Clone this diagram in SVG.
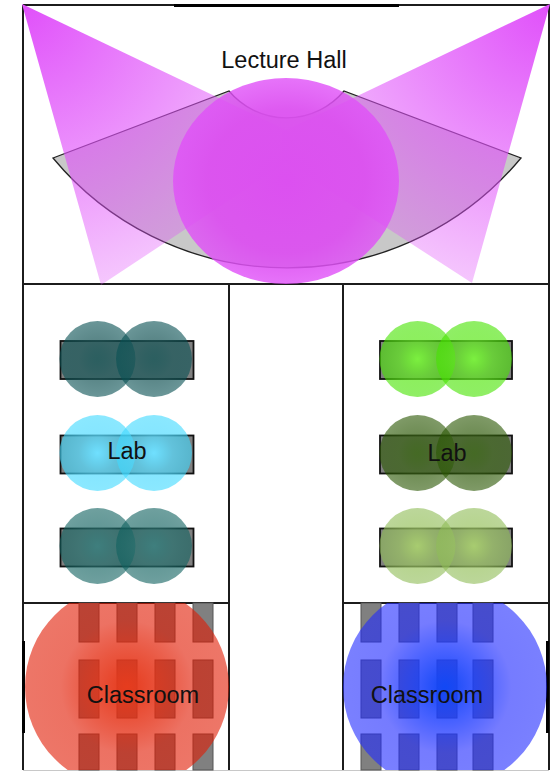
<svg xmlns="http://www.w3.org/2000/svg" width="554" height="771" viewBox="0 0 554 771">
<style>
.wall{fill:none;stroke:#1c1c1c;stroke-width:2}
.bar{fill:#000}
.tbl{fill:#808080;stroke:#111;stroke-width:1.800}
.desk{fill:#808080;stroke:#555;stroke-width:1}
text{font-family:"Liberation Sans",Arial,sans-serif;fill:#111;text-anchor:middle;font-size:23.500px}
</style>
<defs>
<radialGradient id="coneL" gradientUnits="userSpaceOnUse" cx="22" cy="5" r="300"><stop offset="0" stop-color="#e050fa"/><stop offset="1" stop-color="#e050fa" stop-opacity=".3"/></radialGradient>
<radialGradient id="coneR" gradientUnits="userSpaceOnUse" cx="550" cy="5" r="300"><stop offset="0" stop-color="#e050fa"/><stop offset="1" stop-color="#e050fa" stop-opacity=".3"/></radialGradient>
<radialGradient id="hall"><stop offset="0" stop-color="#dc50f0"/><stop offset=".7" stop-color="#dc50f0" stop-opacity=".94"/><stop offset="1" stop-color="#e050f8" stop-opacity=".8"/></radialGradient>
<radialGradient id="l1"><stop offset="0" stop-color="#2c5f60"/><stop offset=".5" stop-color="#1a5759" stop-opacity=".72"/><stop offset="1" stop-color="#075053" stop-opacity=".6"/></radialGradient>
<radialGradient id="l2"><stop offset="0" stop-color="#70e0ff"/><stop offset=".5" stop-color="#57dcff" stop-opacity=".72"/><stop offset="1" stop-color="#3ed9ff" stop-opacity=".6"/></radialGradient>
<radialGradient id="l3"><stop offset="0" stop-color="#3f7f7e"/><stop offset=".5" stop-color="#27706e" stop-opacity=".72"/><stop offset="1" stop-color="#0f615f" stop-opacity=".6"/></radialGradient>
<radialGradient id="r1"><stop offset="0" stop-color="#7cf040"/><stop offset=".5" stop-color="#61e920" stop-opacity=".72"/><stop offset="1" stop-color="#46e300" stop-opacity=".6"/></radialGradient>
<radialGradient id="r2"><stop offset="0" stop-color="#456a25"/><stop offset=".5" stop-color="#376013" stop-opacity=".72"/><stop offset="1" stop-color="#2a5702" stop-opacity=".6"/></radialGradient>
<radialGradient id="r3"><stop offset="0" stop-color="#a8cc70"/><stop offset=".5" stop-color="#9bc463" stop-opacity=".72"/><stop offset="1" stop-color="#8fbc57" stop-opacity=".6"/></radialGradient>
<radialGradient id="red"><stop offset="0" stop-color="#e63c1e"/><stop offset=".35" stop-color="#e42c10" stop-opacity=".8"/><stop offset=".65" stop-color="#e11b03" stop-opacity=".62"/><stop offset="1" stop-color="#e11b03" stop-opacity=".6"/></radialGradient>
<radialGradient id="blue"><stop offset="0" stop-color="#1248f5"/><stop offset=".35" stop-color="#1a3aff" stop-opacity=".8"/><stop offset=".65" stop-color="#212bff" stop-opacity=".62"/><stop offset="1" stop-color="#212bff" stop-opacity=".6"/></radialGradient>
<clipPath id="clipL"><rect x="23" y="603" width="206" height="167"/></clipPath>
<clipPath id="clipR"><rect x="343" y="603" width="206" height="167"/></clipPath>
</defs>
<g id="walls">
<path class="wall" d="M23 5H549V770M23 5V770M23 284H549M229 284V770M343 284V770M23 603H229M343 603H549"/>
<path d="M23 770.500H549" stroke="#c8c8c8" stroke-width="1" fill="none"/>
</g>
<g id="lecture-hall">
<rect class="bar" x="174" y="4" width="225" height="3"/>
<path id="seating" d="M53 158L229 91A75 75 0 0 0 344 91L521 158A304 304 0 0 1 53 158Z" fill="#c8c8c8" stroke="#222" stroke-width="1.300"/>
<polygon points="22,4 290,132 290,160 101,285" fill="url(#coneL)"/>
<polygon points="550,4 282,132 282,160 472,283" fill="url(#coneR)"/>
<ellipse cx="286" cy="181" rx="113" ry="103" fill="url(#hall)"/>
<text x="284" y="68">Lecture Hall</text>
</g>
<g id="lab-left">
<rect class="tbl" x="60.500" y="341" width="133" height="38"/>
<rect class="tbl" x="60.500" y="435.500" width="133" height="38"/>
<rect class="tbl" x="60.500" y="528.500" width="133" height="38"/>
<circle cx="97.500" cy="359" r="38" fill="url(#l1)"/><circle cx="154" cy="359" r="38" fill="url(#l1)"/>
<circle cx="97.500" cy="453" r="38" fill="url(#l2)"/><circle cx="154" cy="453" r="38" fill="url(#l2)"/>
<circle cx="97.500" cy="546" r="38" fill="url(#l3)"/><circle cx="154" cy="546" r="38" fill="url(#l3)"/>
<text x="127" y="459">Lab</text>
</g>
<g id="lab-right">
<rect class="tbl" x="380" y="341" width="132" height="38"/>
<rect class="tbl" x="380" y="435.500" width="132" height="38"/>
<rect class="tbl" x="380" y="528.500" width="132" height="38"/>
<circle cx="417.500" cy="359" r="38" fill="url(#r1)"/><circle cx="474" cy="359" r="38" fill="url(#r1)"/>
<circle cx="417.500" cy="453" r="38" fill="url(#r2)"/><circle cx="474" cy="453" r="38" fill="url(#r2)"/>
<circle cx="417.500" cy="546" r="38" fill="url(#r3)"/><circle cx="474" cy="546" r="38" fill="url(#r3)"/>
<text x="447" y="461">Lab</text>
</g>
<g id="classroom-left">
<rect class="bar" x="22" y="641" width="3" height="92"/>
<g>
<rect class="desk" x="79" y="603" width="20" height="39"/><rect class="desk" x="117" y="603" width="20" height="39"/><rect class="desk" x="155" y="603" width="20" height="39"/><rect class="desk" x="193" y="603" width="20" height="39"/>
<rect class="desk" x="79" y="660" width="20" height="58"/><rect class="desk" x="117" y="660" width="20" height="58"/><rect class="desk" x="155" y="660" width="20" height="58"/><rect class="desk" x="193" y="660" width="20" height="58"/>
<rect class="desk" x="79" y="734" width="20" height="36"/><rect class="desk" x="117" y="734" width="20" height="36"/><rect class="desk" x="155" y="734" width="20" height="36"/><rect class="desk" x="193" y="734" width="20" height="36"/>
</g>
<circle cx="127" cy="687" r="102" fill="url(#red)" clip-path="url(#clipL)"/>
<text x="143" y="703">Classroom</text>
</g>
<g id="classroom-right">
<rect class="bar" x="546" y="641" width="3" height="92"/>
<g>
<rect class="desk" x="361" y="603" width="20" height="39"/><rect class="desk" x="399" y="603" width="20" height="39"/><rect class="desk" x="437" y="603" width="20" height="39"/><rect class="desk" x="473" y="603" width="20" height="39"/>
<rect class="desk" x="361" y="660" width="20" height="58"/><rect class="desk" x="399" y="660" width="20" height="58"/><rect class="desk" x="437" y="660" width="20" height="58"/><rect class="desk" x="473" y="660" width="20" height="58"/>
<rect class="desk" x="361" y="734" width="20" height="36"/><rect class="desk" x="399" y="734" width="20" height="36"/><rect class="desk" x="437" y="734" width="20" height="36"/><rect class="desk" x="473" y="734" width="20" height="36"/>
</g>
<circle cx="445" cy="687" r="102" fill="url(#blue)" clip-path="url(#clipR)"/>
<text x="427" y="703">Classroom</text>
</g>
</svg>
